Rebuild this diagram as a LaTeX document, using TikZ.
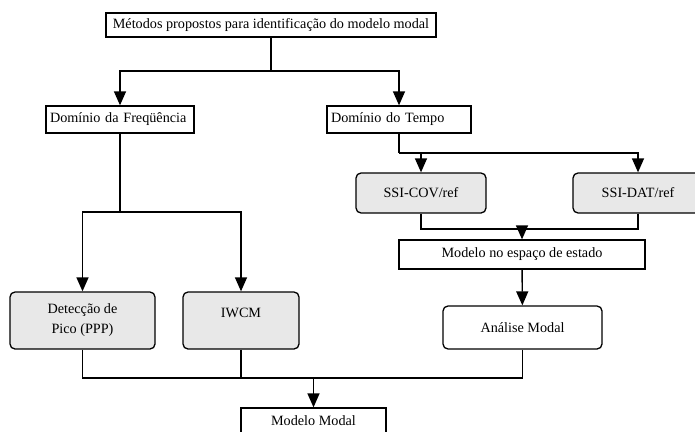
\documentclass[tikz,border=0pt]{standalone}
\usepackage{fontspec}
\setmainfont{Liberation Serif}
\usepackage{tikz}
\usetikzlibrary{arrows.meta}

\begin{document}
\begin{tikzpicture}[x=1pt, y=-1pt,
    every node/.style={font=\fontsize{14.2}{20}\selectfont, inner sep=4pt},
    plainbox/.style={draw, line width=1.3pt, fill=white},
    methodbox/.style={plainbox, rounded corners=5pt, fill=gray!18},
    link/.style={line width=1.4pt},
    flow/.style={link, -{Triangle[width=12pt,length=14pt]}}]
  \useasboundingbox (0,0) rectangle (695,431);

  \node [plainbox, minimum width=330, minimum height=24] (metodos) at (271,25)
    {Métodos propostos para identificação do modelo modal};
  \node [plainbox, minimum height=27, text width=140, align=left] (freq) at (120,119.5)
    {Domínio da Freqüência};
  \node [plainbox, minimum height=27, text width=136, align=left] (tempo) at (399,119.5)
    {Domínio do Tempo};

  % frequency branch
  \node [methodbox, minimum width=145, minimum height=57, align=center] (pico) at (82.5,320.5)
    {Detecção de\\Pico (PPP)};
  \node [methodbox, minimum width=116, text height=21, text depth=28] (iwcm) at (241,320.5)
    {IWCM};

  % time branch
  \node [methodbox, minimum width=130, minimum height=40] (cov) at (421,193) {SSI-COV/ref};
  \node [methodbox, minimum width=130, minimum height=40] (dat) at (638,193) {SSI-DAT/ref};
  \node [plainbox, minimum width=246, minimum height=29] (espaco) at (522,254.5)
    {Modelo no espaço de estado};
  \node [plainbox, rounded corners=5pt, minimum width=159, minimum height=43] (analise) at (522.5,327.5)
    {Análise Modal};

  \node [plainbox, minimum width=145, minimum height=26] (modal) at (313.5,421) {Modelo Modal};

  \coordinate (msplit) at (271,71);
  \coordinate (fsplit) at (120,212);
  \coordinate (tsplit) at (399,153);
  \coordinate (tjoin) at (522,229);
  \coordinate (bjoin) at (313.5,378);

  \draw [link] (metodos) -- (msplit);
  \draw [flow] (msplit) -| (freq);
  \draw [flow] (msplit) -| (tempo);

  \draw [link] (freq) -- (fsplit);
  \draw [flow] (fsplit) -| (pico);
  \draw [flow] (fsplit) -| (iwcm);

  \draw [link] (tempo) -- (tsplit);
  \draw [flow] (tsplit) -| (cov);
  \draw [flow] (tsplit) -| (dat);
  \draw [link] (cov) |- (tjoin);
  \draw [link] (dat) |- (tjoin);
  \draw [flow] (tjoin) -- (espaco);
  \draw [flow] (espaco) -- (analise);

  \draw [link] (pico) |- (bjoin);
  \draw [link] (iwcm) |- (bjoin);
  \draw [link] (analise) |- (bjoin);
  \draw [flow] (bjoin) -- (modal);
\end{tikzpicture}
\end{document}
